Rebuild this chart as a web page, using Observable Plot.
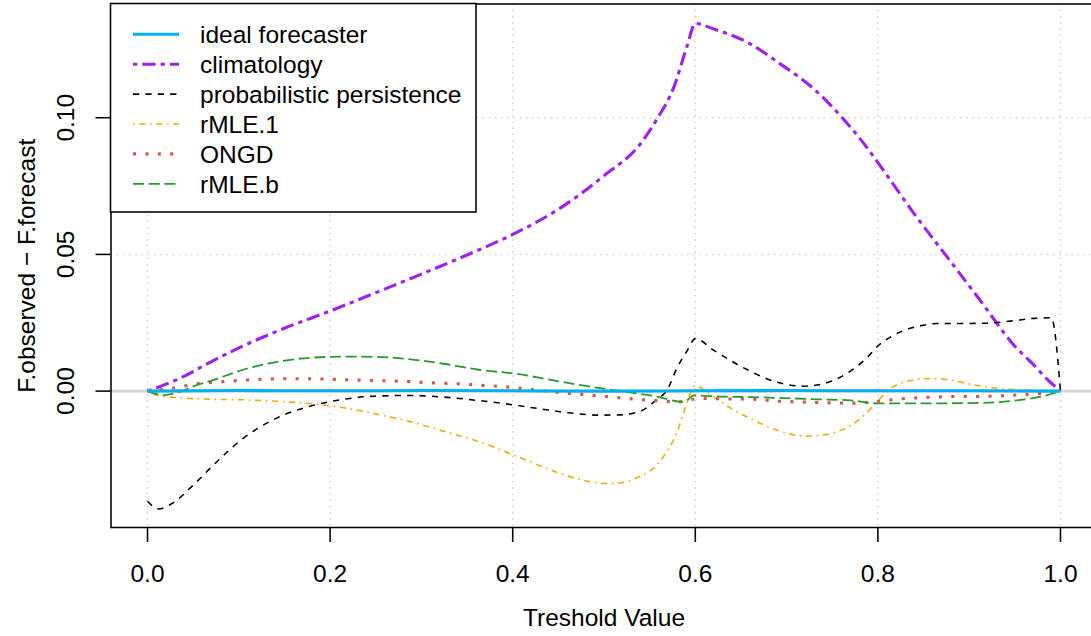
<!DOCTYPE html>
<html>
<head>
<meta charset="utf-8">
<script src="https://cdn.jsdelivr.net/npm/d3@7"></script>
<script src="https://cdn.jsdelivr.net/npm/@observablehq/plot@0.6"></script>
<style>
html, body { margin: 0; padding: 0; background: #fff; }
#wrap { position: relative; width: 1091px; height: 636px; overflow: hidden; }
#wrap > svg { display: block; }
#legend { position: absolute; left: 0; top: 0; pointer-events: none; }
</style>
</head>
<body>
<div id="wrap"></div>
<script>
// ---- Data ----
const seriesNames = ["ideal forecaster", "climatology", "probabilistic persistence", "rMLE.1", "ONGD", "rMLE.b"];

const xTicks = [0, 0.2, 0.4, 0.6, 0.8, 1.0];
const yTicks = [0, 0.05, 0.10];

const idealT = [0, 0.1, 0.2, 0.3, 0.4, 0.5, 0.6, 0.7, 0.8, 0.9, 1.0];
const idealV = [0, 0.0002, 0.0001, 0.0002, 0.0001, 0, 0.0001, 0.0002, 0.0001, 0.0001, 0];

const climT = [0, 0.035, 0.07, 0.1, 0.15, 0.2, 0.25, 0.3, 0.35, 0.4, 0.45, 0.5, 0.54, 0.558, 0.5765, 0.591, 0.6, 0.62, 0.657, 0.693, 0.73, 0.759, 0.785, 0.803, 0.839, 0.876, 0.912, 0.949, 0.971, 0.985, 1.0];
const climV = [0, 0.0046, 0.0108, 0.0158, 0.0230, 0.0293, 0.0360, 0.0428, 0.0498, 0.0573, 0.0665, 0.0788, 0.0905, 0.0995, 0.1112, 0.1262, 0.1345, 0.1325, 0.1276, 0.1197, 0.1105, 0.1007, 0.0904, 0.0822, 0.0652, 0.0490, 0.0332, 0.0168, 0.0095, 0.0045, 0];

const persT = [0, 0.012, 0.025, 0.0507, 0.069, 0.1055, 0.142, 0.1785, 0.215, 0.2516, 0.288, 0.3245, 0.361, 0.3976, 0.43, 0.46, 0.496, 0.518, 0.531, 0.544, 0.558, 0.569, 0.58, 0.591, 0.6, 0.62, 0.657, 0.69, 0.719, 0.748, 0.77, 0.788, 0.8, 0.8175, 0.843, 0.865, 0.916, 0.945, 0.971, 0.99, 1.0];
const persV = [-0.0403, -0.0431, -0.0415, -0.0342, -0.0281, -0.0171, -0.0098, -0.0055, -0.003, -0.0018, -0.0016, -0.0022, -0.0034, -0.0049, -0.0065, -0.0079, -0.0088, -0.0087, -0.0082, -0.0067, -0.003, 0.0003, 0.0085, 0.0147, 0.0192, 0.015, 0.0078, 0.0032, 0.0018, 0.0035, 0.0073, 0.0122, 0.0165, 0.0205, 0.0236, 0.0247, 0.0248, 0.0256, 0.0266, 0.0268, 0];

const rmle1T = [0, 0.014, 0.0325, 0.069, 0.1055, 0.142, 0.1785, 0.215, 0.2516, 0.288, 0.3245, 0.361, 0.4085, 0.445, 0.474, 0.5035, 0.518, 0.536, 0.5545, 0.569, 0.5805, 0.589, 0.595, 0.6, 0.604, 0.613, 0.6276, 0.645, 0.66, 0.69, 0.723, 0.745, 0.765, 0.783, 0.8, 0.815, 0.835, 0.857, 0.88, 0.9, 0.93, 0.965, 1.0];
const rmle1V = [0, -0.0018, -0.0024, -0.003, -0.0032, -0.0037, -0.0046, -0.0061, -0.0085, -0.0112, -0.0147, -0.0183, -0.0244, -0.0293, -0.0324, -0.0338, -0.0336, -0.0317, -0.0281, -0.022, -0.0147, -0.0061, -0.0006, 0.002, 0.0016, -0.0005, -0.0037, -0.0075, -0.01, -0.0144, -0.0165, -0.0158, -0.0135, -0.0095, -0.0035, 0.0012, 0.0038, 0.0046, 0.0040, 0.0026, 0.001, 0.0004, 0];

const ongdT = [0, 0.027, 0.0544, 0.081, 0.122, 0.149, 0.176, 0.2035, 0.2304, 0.258, 0.2852, 0.312, 0.339, 0.3666, 0.394, 0.421, 0.448, 0.475, 0.5025, 0.529, 0.5565, 0.583, 0.5965, 0.61, 0.624, 0.664, 0.6915, 0.718, 0.746, 0.773, 0.8, 0.827, 0.854, 0.881, 0.9085, 0.936, 0.9635, 0.98, 1.0];
const ongdV = [0, 0.001, 0.0027, 0.0034, 0.0043, 0.0045, 0.0045, 0.0043, 0.004, 0.0038, 0.0035, 0.003, 0.0027, 0.0021, 0.0015, 0.0006, -0.0004, -0.0012, -0.002, -0.0028, -0.0035, -0.0039, -0.003, -0.0027, -0.0028, -0.003, -0.0037, -0.004, -0.0043, -0.0044, -0.0037, -0.0028, -0.0023, -0.002, -0.002, -0.0017, -0.0012, -0.0008, 0];

const rmlebT = [0, 0.018, 0.0325, 0.0507, 0.069, 0.1055, 0.142, 0.1785, 0.215, 0.2516, 0.288, 0.3245, 0.361, 0.4085, 0.445, 0.4816, 0.518, 0.5545, 0.588, 0.5984, 0.6276, 0.66, 0.7335, 0.77, 0.799, 0.843, 0.916, 0.952, 0.982, 1.0];
const rmlebV = [0, -0.0015, -0.0006, 0.0018, 0.0037, 0.0079, 0.0107, 0.0122, 0.0126, 0.0125, 0.0116, 0.01, 0.0079, 0.0061, 0.0039, 0.0018, 0, -0.0018, -0.004, -0.0016, -0.002, -0.0022, -0.003, -0.0034, -0.0045, -0.0045, -0.0043, -0.0034, -0.0018, 0];

const xTitle = "Treshold Value";
const yTitle = "F.observed \u2212 F.forecast";

// ---- Styles ----
const styles = {
  "ideal forecaster":          {stroke: "#00B0F0", strokeWidth: 3.1, dash: null},
  "climatology":               {stroke: "#A020F0", strokeWidth: 3.1, dash: "4.3,5,13.3,5"},
  "probabilistic persistence": {stroke: "#000000", strokeWidth: 1.55, dash: "6.2,6.2"},
  "rMLE.1":                    {stroke: "#F2AA00", strokeWidth: 1.55, dash: "1.55,4.65,6.2,4.65"},
  "ONGD":                      {stroke: "#D4584A", strokeWidth: 3.1, dash: "3.1,9.3"},
  "rMLE.b":                    {stroke: "#2A9A2A", strokeWidth: 1.8, dash: "11,4.7"}
};

const seriesData = [
  [idealT, idealV], [climT, climV], [persT, persV], [rmle1T, rmle1V], [ongdT, ongdV], [rmlebT, rmlebV]
];
const tables = seriesNames.map((name, k) => seriesData[k][0].map((t, i) => ({series: name, t, v: seriesData[k][1][i]})));

const drawOrder = [1, 2, 3, 4, 5, 0];

const font = "'Liberation Sans', Arial, Helvetica, sans-serif";

const chart = Plot.plot({
  width: 1091,
  height: 636,
  marginLeft: 110.5,
  marginRight: -5.5,
  marginTop: 3.5,
  marginBottom: 109,
  x: {domain: [-0.04, 1.04]},
  y: {domain: [-0.0499, 0.1416]},
  style: {fontFamily: font, fontSize: "24.5px", color: "black", background: "white"},
  marks: [
    Plot.gridX({ticks: xTicks, stroke: "#d3d3d3", strokeOpacity: 1, strokeWidth: 1.55, strokeDasharray: "1.55,4.65"}),
    Plot.gridY({ticks: yTicks.filter(d => d !== 0), stroke: "#d3d3d3", strokeOpacity: 1, strokeWidth: 1.55, strokeDasharray: "1.55,4.65"}),
    Plot.ruleY([0], {stroke: "#d3d3d3", strokeWidth: 2.6}),
    ...drawOrder.map(k => {
      const s = styles[seriesNames[k]];
      return Plot.line(tables[k], {
        x: "t", y: "v", stroke: s.stroke, strokeWidth: s.strokeWidth,
        strokeDasharray: s.dash || undefined, strokeLinecap: "butt", strokeLinejoin: "round",
        curve: "monotone-x"
      });
    }),
    Plot.frame({stroke: "black", strokeWidth: 1.55}),
    Plot.axisX({ticks: xTicks, tickSize: 15, tickPadding: 22, tickFormat: d3.format(".1f"), label: null, strokeWidth: 1.55, fontSize: 24.5}),
    Plot.axisY({ticks: yTicks, tickSize: 15, tickPadding: 29.5, tickRotate: -90, textAnchor: "middle", lineAnchor: "middle", tickFormat: d3.format(".2f"), label: null, strokeWidth: 1.55, fontSize: 24.5}),
    Plot.text([xTitle], {text: d => d, frameAnchor: "bottom", dy: 98, lineAnchor: "bottom", fontSize: 24.5}),
    Plot.text([yTitle], {text: d => d, frameAnchor: "left", dx: -76.5, rotate: -90, lineAnchor: "bottom", textAnchor: "middle", fontSize: 24.5})
  ]
});

const wrap = document.getElementById("wrap");
wrap.appendChild(chart);

// ---- Legend (inset, top-left, like R's legend("topleft")) ----
const lg = d3.select(wrap).append("svg")
  .attr("id", "legend")
  .attr("width", 1091).attr("height", 636);
const box = {x: 110.5, y: 3.5, w: 365.5, h: 208.5};
lg.append("rect")
  .attr("x", box.x).attr("y", box.y).attr("width", box.w).attr("height", box.h)
  .attr("fill", "white").attr("stroke", "black").attr("stroke-width", 1.55);
const rowStart = 34.3, rowStep = 29.9;
seriesNames.forEach((name, i) => {
  const s = styles[name];
  const yy = rowStart + i * rowStep;
  lg.append("line")
    .attr("x1", 133).attr("x2", 179).attr("y1", yy).attr("y2", yy)
    .attr("stroke", s.stroke).attr("stroke-width", s.strokeWidth)
    .attr("stroke-dasharray", s.dash)
    .attr("stroke-linecap", "butt");
  lg.append("text")
    .attr("x", 200).attr("y", yy + 8.8)
    .attr("font-family", font).attr("font-size", 24.5)
    .attr("fill", "black")
    .text(name);
});
</script>
</body>
</html>
